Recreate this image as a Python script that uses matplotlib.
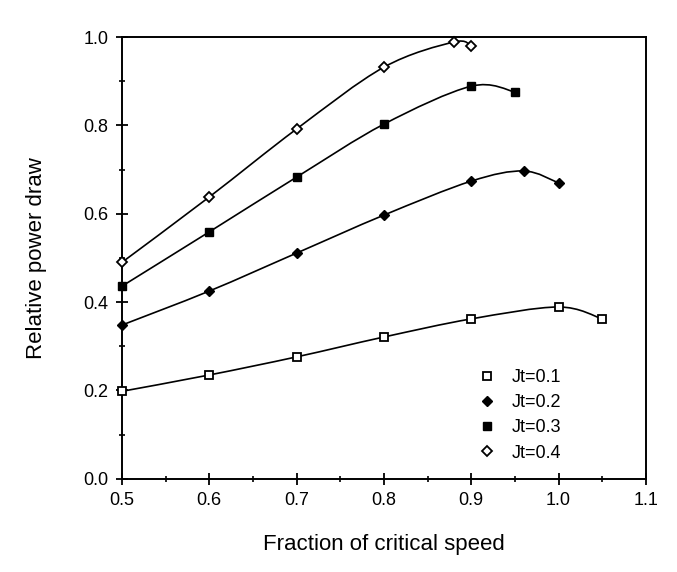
import numpy as np
import matplotlib
matplotlib.use("Agg")
import matplotlib.pyplot as plt
from matplotlib.path import Path
from matplotlib.patches import PathPatch
from matplotlib.lines import Line2D
from matplotlib.ticker import MultipleLocator

plt.rcParams['font.family'] = ['Liberation Sans', 'DejaVu Sans']

# values
x_jt1 = [0.5, 0.6, 0.7, 0.8, 0.9, 1.0, 1.05]
y_jt1 = [0.198, 0.235, 0.276, 0.321, 0.362, 0.389, 0.362]

x_jt2 = [0.5, 0.6, 0.7, 0.8, 0.9, 0.96, 1.0]
y_jt2 = [0.348, 0.425, 0.511, 0.597, 0.674, 0.697, 0.670]

x_jt3 = [0.5, 0.6, 0.7, 0.8, 0.9, 0.95]
y_jt3 = [0.436, 0.559, 0.683, 0.803, 0.889, 0.876]

x_jt4 = [0.5, 0.6, 0.7, 0.8, 0.88, 0.9]
y_jt4 = [0.490, 0.638, 0.792, 0.932, 0.989, 0.980]

labels = ['Jt=0.1', 'Jt=0.2', 'Jt=0.3', 'Jt=0.4']


def smooth_path(xs, ys):
    # Catmull-Rom style curve through the points, drawn as cubic Bezier segments
    p = np.column_stack([xs, ys])
    n = len(p)
    verts = [p[0]]
    codes = [Path.MOVETO]
    for i in range(n - 1):
        p0 = p[i - 1] if i > 0 else p[i]
        p3 = p[i + 2] if i + 2 < n else p[i + 1]
        c1 = p[i] + (p[i + 1] - p0) / 6.0
        c2 = p[i + 1] - (p3 - p[i]) / 6.0
        verts += [c1, c2, p[i + 1]]
        codes += [Path.CURVE4] * 3
    return Path(verts, codes)


fig = plt.figure(figsize=(6.77, 5.72), dpi=100)
ax = fig.add_axes([0.180, 0.163, 0.774, 0.772])

styles = [
    dict(marker='s', mfc='white', ms=5.5, mew=1.3),
    dict(marker='D', mfc='black', ms=5, mew=1.0),
    dict(marker='s', mfc='black', ms=6, mew=1.0),
    dict(marker='D', mfc='white', ms=5, mew=1.3),
]
series = [(x_jt1, y_jt1), (x_jt2, y_jt2), (x_jt3, y_jt3), (x_jt4, y_jt4)]

for (xs, ys), st in zip(series, styles):
    ax.add_patch(PathPatch(smooth_path(xs, ys), facecolor='none',
                           edgecolor='black', lw=1.2, zorder=2))
    ax.plot(xs, ys, linestyle='none', color='black', mec='black',
            zorder=3, clip_on=False, **st)

ax.set_xlim(0.5, 1.1)
ax.set_ylim(0.0, 1.0)
ax.xaxis.set_major_locator(MultipleLocator(0.1))
ax.xaxis.set_minor_locator(MultipleLocator(0.05))
ax.yaxis.set_major_locator(MultipleLocator(0.2))
ax.yaxis.set_minor_locator(MultipleLocator(0.1))
ax.xaxis.set_major_formatter(plt.FormatStrFormatter('%.1f'))
ax.yaxis.set_major_formatter(plt.FormatStrFormatter('%.1f'))
ax.tick_params(which='major', direction='inout', length=9, width=1.3,
               labelsize=13, pad=5)
ax.tick_params(which='minor', direction='inout', length=5, width=1.2)
for s in ax.spines.values():
    s.set_linewidth(1.4)

ax.set_xlabel('Fraction of critical speed', fontsize=16, labelpad=18)
ax.set_ylabel('Relative power draw', fontsize=16, labelpad=26)

handles = [Line2D([], [], linestyle='none', color='black', mec='black', **st)
           for st in styles]
ax.legend(handles, labels, loc='upper left', bbox_to_anchor=(0.648, 0.285),
          frameon=False, fontsize=13, handlelength=1.0, handletextpad=0.9,
          labelspacing=0.45)

fig.savefig('out.png', dpi=100)
